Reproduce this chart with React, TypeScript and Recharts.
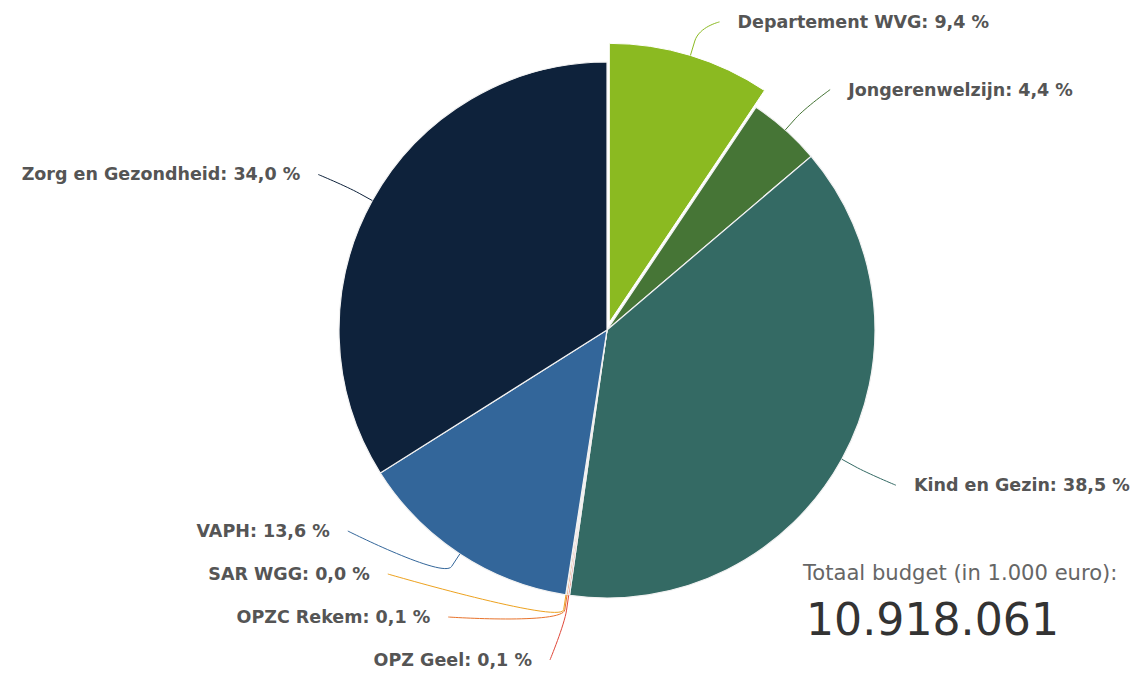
import React from 'react';
import { PieChart, Pie, Cell } from 'recharts';

const CATEGORIES = [
  'Departement WVG',
  'Jongerenwelzijn',
  'Kind en Gezin',
  'OPZ Geel',
  'OPZC Rekem',
  'SAR WGG',
  'VAPH',
  'Zorg en Gezondheid',
];
const SHARES = [9.4, 4.4, 38.5, 0.1, 0.1, 0.03, 13.6, 34.0];
const COLORS = ['#8bba21', '#467536', '#346a64', '#e0483a', '#e8732c', '#eda21f', '#33669a', '#0e223b'];
const SLICED = [true, false, false, false, false, false, false, false];

const TOTAL_LABEL = 'Totaal budget (in 1.000 euro):';
const TOTAL_VALUE = '10.918.061';

const W = 1143;
const H = 675;
const CX = 607;
const CY = 330;
const R = 268;
const SLICED_R = 279;
const SLICE_OFFSET = 8;
const LABEL_R = 328; // circle where connectors end
const TARGET_R = 322; // circle used for label target y
const LABEL_GAP = 43;
const MIN_Y = 15;
const MAX_Y = 660;

const data = CATEGORIES.map((name, i) => ({ name, value: SHARES[i] }));

const fmt = (v: number) => v.toFixed(1).replace('.', ',') + ' %';

// clockwise degrees from 12 o'clock
const total = SHARES.reduce((a, b) => a + b, 0);
const midAngles: number[] = [];
{
  let cum = 0;
  SHARES.forEach((v) => {
    midAngles.push(((cum + v / 2) / total) * 360);
    cum += v;
  });
}

const sliceShift = (i: number) => {
  if (!SLICED[i]) return { dx: 0, dy: 0 };
  const a = (midAngles[i] * Math.PI) / 180;
  return { dx: SLICE_OFFSET * Math.sin(a), dy: -SLICE_OFFSET * Math.cos(a) };
};

// spread labels on each side so they don't overlap (highcharts-like)
function distribute(items: { i: number; target: number }[]) {
  let clusters = items
    .sort((a, b) => a.target - b.target)
    .map((it) => ({ items: [it], pos: it.target }));
  const place = (c: { items: { target: number }[]; pos: number }) => {
    const n = c.items.length;
    const mean = c.items.reduce((s, it) => s + it.target, 0) / n;
    let first = mean - ((n - 1) * LABEL_GAP) / 2;
    first = Math.min(first, MAX_Y - (n - 1) * LABEL_GAP);
    first = Math.max(first, MIN_Y);
    c.pos = first;
  };
  clusters.forEach(place);
  let merged = true;
  while (merged) {
    merged = false;
    for (let k = 0; k < clusters.length - 1; k++) {
      const a = clusters[k];
      const b = clusters[k + 1];
      const aEnd = a.pos + (a.items.length - 1) * LABEL_GAP;
      if (aEnd + LABEL_GAP > b.pos) {
        const c = { items: [...a.items, ...b.items], pos: 0 };
        place(c);
        clusters.splice(k, 2, c);
        merged = true;
        break;
      }
    }
  }
  const out: Record<number, number> = {};
  clusters.forEach((c) => c.items.forEach((it, j) => (out[it.i] = c.pos + j * LABEL_GAP)));
  return out;
}

const labelY: Record<number, number> = (() => {
  const left: { i: number; target: number }[] = [];
  const right: { i: number; target: number }[] = [];
  midAngles.forEach((m, i) => {
    const a = (m * Math.PI) / 180;
    const t = CY - TARGET_R * Math.cos(a);
    (Math.sin(a) >= 0 ? right : left).push({ i, target: t });
  });
  return { ...distribute(left), ...distribute(right) };
})();

const renderLabel = (props: any) => {
  const i = props.index as number;
  const a = (midAngles[i] * Math.PI) / 180;
  const right = Math.sin(a) >= 0;
  const { dx, dy } = sliceShift(i);
  const rr = SLICED[i] ? SLICED_R : R;
  const edge = { x: CX + dx + rr * Math.sin(a), y: CY + dy - rr * Math.cos(a) };
  const bp = { x: CX + dx + (rr + 15) * Math.sin(a), y: CY + dy - (rr + 15) * Math.cos(a) };
  const y = labelY[i];
  const ddy = Math.min(Math.abs(y - CY), LABEL_R - 5);
  const x = CX + (right ? 1 : -1) * Math.sqrt(LABEL_R * LABEL_R - ddy * ddy);
  const path = `M ${x} ${y} C ${x} ${y} ${2 * bp.x - edge.x} ${2 * bp.y - edge.y} ${bp.x} ${bp.y} L ${edge.x} ${edge.y}`;
  return (
    <g key={`lbl-${i}`}>
      <path d={path} fill="none" stroke={COLORS[i]} strokeWidth={1} />
      <text
        x={x + (right ? 18 : -18)}
        y={y + 6}
        textAnchor={right ? 'start' : 'end'}
        fill="#555"
        stroke="#fff"
        strokeWidth={2}
        paintOrder="stroke"
        fontFamily="DejaVu Sans, sans-serif"
        fontWeight="bold"
        fontSize={17.5}
      >
        {CATEGORIES[i]}: {fmt(SHARES[i])}
      </text>
    </g>
  );
};

export default function App() {
  const wvg = sliceShift(0);
  return (
    <div style={{ position: 'absolute', left: 0, top: 0, width: W, height: H, background: '#fff' }}>
      <PieChart width={W} height={H} margin={{ top: 0, right: 0, bottom: 0, left: 0 }}>
        <Pie
          data={data}
          dataKey="value"
          nameKey="name"
          cx={CX}
          cy={CY}
          outerRadius={R}
          startAngle={90}
          endAngle={-270}
          stroke="#f2f2f2"
          strokeWidth={1.2}
          label={renderLabel}
          labelLine={false}
          isAnimationActive={false}
        >
          {data.map((d, i) => (
            <Cell
              key={`c-${i}`}
              fill={SLICED[i] ? 'transparent' : COLORS[i]}
              stroke={SLICED[i] ? 'none' : '#f2f2f2'}
            />
          ))}
        </Pie>
        <Pie
          data={data}
          dataKey="value"
          nameKey="name"
          cx={CX + wvg.dx}
          cy={CY + wvg.dy}
          outerRadius={SLICED_R}
          startAngle={90}
          endAngle={-270}
          isAnimationActive={false}
        >
          {data.map((d, i) => (
            <Cell
              key={`s-${i}`}
              fill={SLICED[i] ? COLORS[i] : 'transparent'}
              stroke={SLICED[i] ? '#fff' : 'none'}
            />
          ))}
        </Pie>
      </PieChart>
      <svg width={W} height={H} style={{ position: 'absolute', left: 0, top: 0, pointerEvents: 'none' }}>
        <text x={803} y={580} fill="#666" fontFamily="DejaVu Sans, sans-serif" fontSize={21.1}>
          {TOTAL_LABEL}
        </text>
        <text x={806} y={635} fill="#333" fontFamily="DejaVu Sans, sans-serif" fontSize={44.2}>
          {TOTAL_VALUE}
        </text>
      </svg>
    </div>
  );
}
